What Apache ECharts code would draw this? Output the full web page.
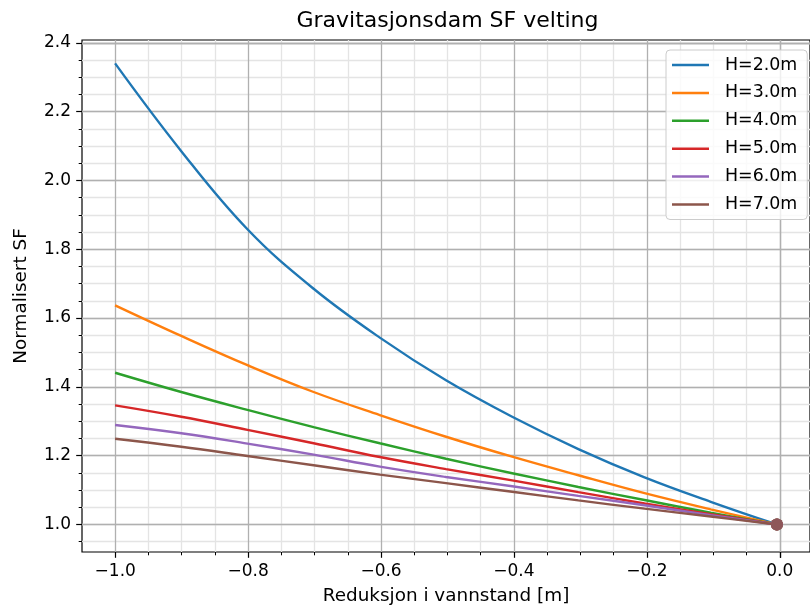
<!DOCTYPE html>
<html>
<head>
<meta charset="utf-8">
<script src="https://cdn.jsdelivr.net/npm/echarts@6/dist/echarts.min.js"></script>
<style>
  html, body { margin: 0; padding: 0; background: #ffffff; }
  #chart { width: 810px; height: 612px; }
</style>
</head>
<body>
<div id="chart"></div>
<script>
// Water level reduction [m] (x) and normalised overturning safety factor per dam height
const reduction = [-1.0, -0.9, -0.8, -0.7, -0.6, -0.5, -0.4, -0.3, -0.2, -0.1, 0.0];
const sfH2 = [2.340, 2.085, 1.858, 1.685, 1.543, 1.419, 1.313, 1.219, 1.137, 1.066, 1.0];
const sfH3 = [1.637, 1.548, 1.463, 1.385, 1.318, 1.255, 1.197, 1.143, 1.091, 1.044, 1.0];
const sfH4 = [1.441, 1.385, 1.333, 1.283, 1.236, 1.191, 1.149, 1.109, 1.071, 1.034, 1.0];
const sfH5 = [1.346, 1.313, 1.275, 1.236, 1.196, 1.161, 1.128, 1.094, 1.061, 1.030, 1.0];
const sfH6 = [1.289, 1.265, 1.235, 1.203, 1.168, 1.138, 1.111, 1.083, 1.056, 1.027, 1.0];
const sfH7 = [1.249, 1.226, 1.199, 1.172, 1.145, 1.120, 1.095, 1.070, 1.046, 1.023, 1.0];

const seriesNames = ['H=2.0m', 'H=3.0m', 'H=4.0m', 'H=5.0m', 'H=6.0m', 'H=7.0m'];
const seriesValues = [sfH2, sfH3, sfH4, sfH5, sfH6, sfH7];
const seriesColors = ['#1f77b4', '#ff7f0e', '#2ca02c', '#d62728', '#9467bd', '#8c564b'];

// Tick positions
const xTicks = [-1.0, -0.8, -0.6, -0.4, -0.2, 0.0];
const yTicks = [1.0, 1.2, 1.4, 1.6, 1.8, 2.0, 2.2, 2.4];
const minorStep = 0.05;

// Axes box and data extents (with a 5% margin around the data)
const box = { left: 82, top: 40, width: 731, height: 512 };
const xExtent = [-1.05, 0.05];
const yExtent = [0.92, 2.408];

const FONT = "'DejaVu Sans', sans-serif";
const MAJOR_GRID = '#b0b0b0';
const MINOR_GRID = '#e4e4e4';
const TICK_FONT = 17;
const LABEL_FONT = 18.4;
const LEGEND_FONT = 17.4;

const px = v => box.left + (v - xExtent[0]) / (xExtent[1] - xExtent[0]) * box.width;
const py = v => box.top + (yExtent[1] - v) / (yExtent[1] - yExtent[0]) * box.height;

const xMajor = [xTicks[0], xTicks[xTicks.length - 1]];
const yMajor = [yTicks[0], yTicks[yTicks.length - 1]];
const yMinorLow = yMajor[0] - minorStep;

const fmt = v => {
  if (Math.abs(v) < 1e-9) return '0.0';
  return (v < 0 ? '\u2212' : '') + Math.abs(v).toFixed(1);
};

const chart = echarts.init(document.getElementById('chart'), null, { renderer: 'canvas' });

const lineSeries = seriesNames.map((name, i) => ({
  name: name,
  type: 'line',
  xAxisIndex: 0,
  yAxisIndex: 0,
  data: reduction.map((x, j) => [x, seriesValues[i][j]]),
  showSymbol: false,
  smooth: 0.4,
  lineStyle: { width: 2.4, color: seriesColors[i] },
  itemStyle: { color: seriesColors[i] },
  z: 5,
  animation: false
}));

// End-point markers at zero reduction
const endSeries = seriesNames.map((name, i) => ({
  type: 'scatter',
  xAxisIndex: 0,
  yAxisIndex: 0,
  data: [[reduction[reduction.length - 1], seriesValues[i][seriesValues[i].length - 1]]],
  symbolSize: 12,
  itemStyle: { color: seriesColors[i], opacity: 0.85 },
  z: 6,
  animation: false,
  silent: true
}));

const option = {
  backgroundColor: '#ffffff',
  animation: false,
  graphic: [{
    type: 'text',
    x: box.left + box.width / 2,
    y: 21,
    style: {
      text: 'Gravitasjonsdam SF velting',
      fontFamily: FONT,
      fontSize: 22,
      fill: '#000000',
      textAlign: 'center',
      textVerticalAlign: 'middle'
    }
  }],
  legend: {
    orient: 'vertical',
    left: 666,
    top: 50,
    data: seriesNames,
    icon: 'rect',
    itemWidth: 37,
    itemHeight: 2.5,
    itemGap: 7.9,
    padding: [5, 10, 5, 6],
    backgroundColor: 'rgba(255,255,255,0.8)',
    borderColor: '#cccccc',
    borderWidth: 1,
    borderRadius: 4,
    selectedMode: false,
    textStyle: {
      fontFamily: FONT,
      fontSize: LEGEND_FONT,
      color: '#000000',
      lineHeight: 20,
      padding: [0, 0, 0, 11]
    },
    z: 10
  },
  grid: [
    // data area with frame
    { left: box.left, top: box.top, width: box.width, height: box.height,
      show: true, borderColor: '#000000', borderWidth: 1.2, backgroundColor: 'transparent' },
    // x major/minor ticks and vertical grid lines
    { left: px(xMajor[0]), top: box.top, width: px(xMajor[1]) - px(xMajor[0]), height: box.height },
    // y major ticks and horizontal grid lines
    { left: box.left, top: py(yMajor[1]), width: box.width, height: py(yMajor[0]) - py(yMajor[1]) },
    // y minor ticks and horizontal minor grid lines
    { left: box.left, top: py(yMajor[1]), width: box.width, height: py(yMinorLow) - py(yMajor[1]) }
  ],
  xAxis: [
    {
      gridIndex: 0, type: 'value', min: xExtent[0], max: xExtent[1],
      axisLine: { show: false }, axisTick: { show: false }, axisLabel: { show: false },
      splitLine: { show: false },
      name: 'Reduksjon i vannstand [m]', nameLocation: 'middle', nameGap: 35,
      nameTextStyle: { fontFamily: FONT, fontSize: LABEL_FONT, color: '#000000' }
    },
    {
      gridIndex: 1, type: 'value', min: xMajor[0], max: xMajor[1],
      interval: xTicks[1] - xTicks[0], z: 1,
      axisLine: { show: false },
      axisTick: { show: true, inside: false, length: 5.8, lineStyle: { color: '#000000', width: 1.2 } },
      axisLabel: { show: true, margin: 11, formatter: fmt, fontFamily: FONT, fontSize: TICK_FONT, color: '#000000' },
      splitLine: { show: true, lineStyle: { color: MAJOR_GRID, width: 1.3 } },
      minorTick: { show: true, splitNumber: Math.round((xTicks[1] - xTicks[0]) / minorStep), length: 3.3,
                   lineStyle: { color: '#000000', width: 1 } },
      minorSplitLine: { show: true, lineStyle: { color: MINOR_GRID, width: 1.3 } }
    },
    { gridIndex: 2, type: 'value', show: false, min: 0, max: 1 },
    { gridIndex: 3, type: 'value', show: false, min: 0, max: 1 }
  ],
  yAxis: [
    {
      gridIndex: 0, type: 'value', min: yExtent[0], max: yExtent[1],
      axisLine: { show: false }, axisTick: { show: false }, axisLabel: { show: false },
      splitLine: { show: false },
      name: 'Normalisert SF', nameLocation: 'middle', nameGap: 52,
      nameTextStyle: { fontFamily: FONT, fontSize: LABEL_FONT, color: '#000000' }
    },
    { gridIndex: 1, type: 'value', show: false, min: 0, max: 1 },
    {
      gridIndex: 2, type: 'value', min: yMajor[0], max: yMajor[1],
      interval: yTicks[1] - yTicks[0], z: 2,
      axisLine: { show: false },
      axisTick: { show: true, inside: false, length: 5.8, lineStyle: { color: '#000000', width: 1.2 } },
      axisLabel: { show: true, margin: 11, formatter: fmt, fontFamily: FONT, fontSize: TICK_FONT, color: '#000000' },
      splitLine: { show: true, lineStyle: { color: MAJOR_GRID, width: 1.3 } }
    },
    {
      gridIndex: 3, type: 'value', min: yMinorLow, max: yMajor[1],
      interval: minorStep, z: 0,
      axisLine: { show: false },
      axisTick: { show: true, inside: false, length: 3.3, lineStyle: { color: '#000000', width: 1 } },
      axisLabel: { show: false },
      splitLine: { show: true, lineStyle: { color: MINOR_GRID, width: 1.3 } }
    }
  ],
  series: lineSeries.concat(endSeries)
};

chart.setOption(option);
</script>
</body>
</html>
